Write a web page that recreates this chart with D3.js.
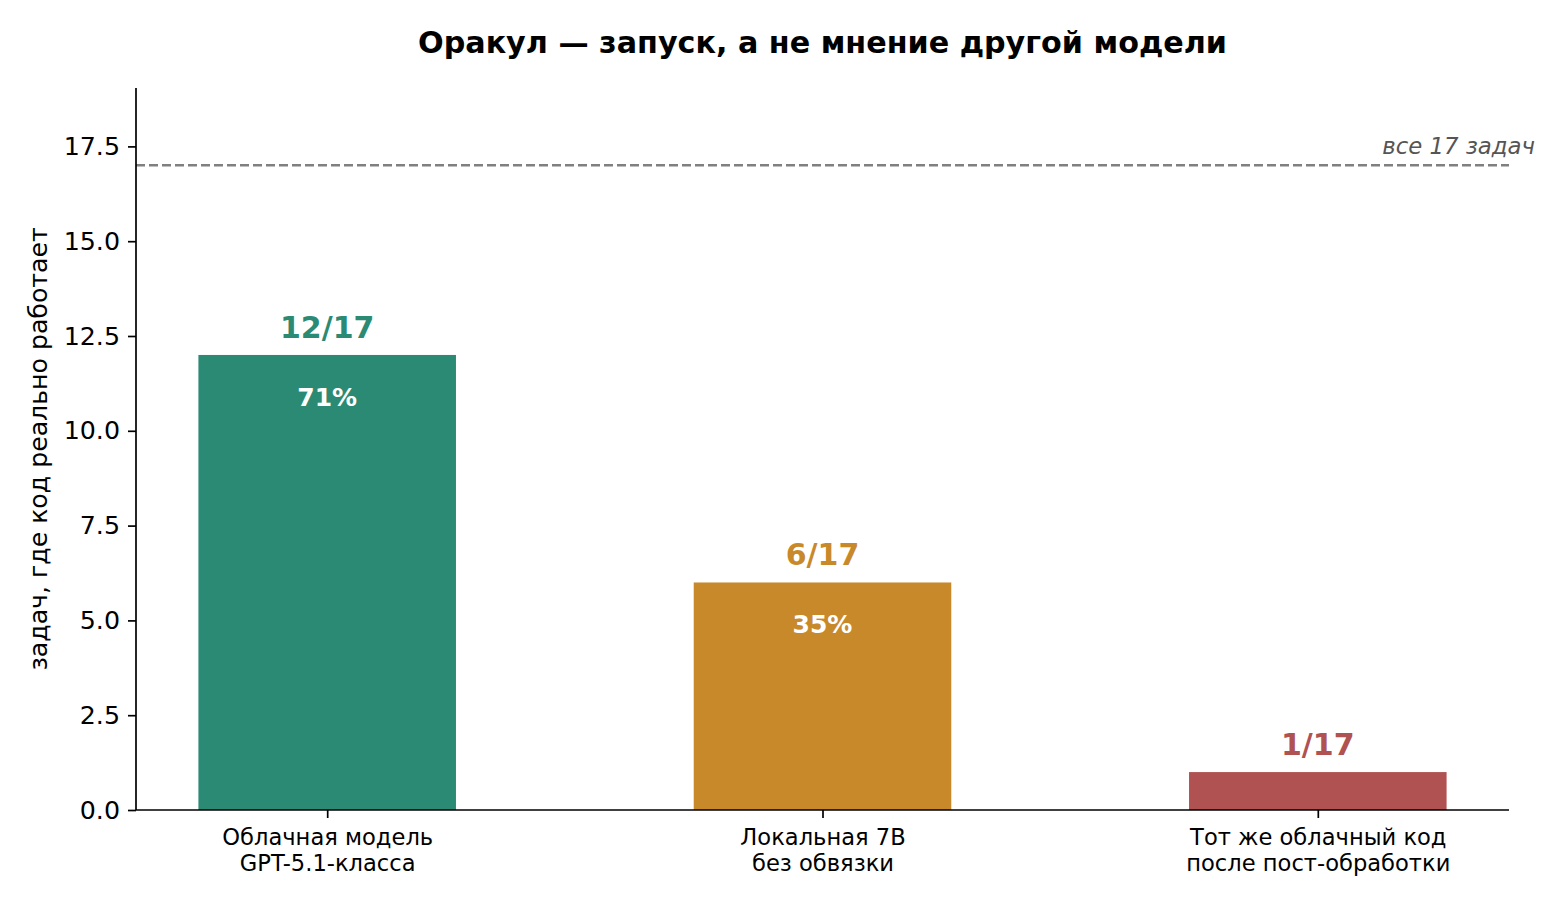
<!DOCTYPE html>
<html>
<head>
<meta charset="utf-8">
<script src="https://cdn.jsdelivr.net/npm/d3@7"></script>
<style>
  body { margin: 0; background: #fff; }
  svg { display: block; font-family: "DejaVu Sans", sans-serif; }
</style>
</head>
<body>
<svg width="1560" height="906"></svg>
<script>
// data
var categories = [["Облачная модель", "GPT-5.1-класса"], ["Локальная 7B", "без обвязки"], ["Тот же облачный код", "после пост-обработки"]];
var passed = [12, 6, 1];
var totalTasks = 17;
var barColors = ["#2b8a73", "#c8892b", "#b05252"];
var yTicks = [0, 2.5, 5, 7.5, 10, 12.5, 15, 17.5];

var width = 1560, height = 906;
var margin = { top: 88, right: 51, bottom: 96, left: 136 };
var barW = 0.52;

var svg = d3.select("svg");

var x = d3.scaleLinear()
    .domain([-barW / 2 - 0.126, passed.length - 1 + barW / 2 + 0.126])
    .range([margin.left, width - margin.right]);

var y = d3.scaleLinear()
    .domain([0, totalTasks * 1.12])
    .range([height - margin.bottom, margin.top]);

// title
svg.append("text")
    .attr("x", (margin.left + width - margin.right) / 2)
    .attr("y", 53)
    .attr("text-anchor", "middle")
    .attr("font-size", 30.2)
    .attr("font-weight", "bold")
    .text("Оракул — запуск, а не мнение другой модели");

// reference line at 17
svg.append("line")
    .attr("x1", x.range()[0]).attr("x2", x.range()[1])
    .attr("y1", y(totalTasks)).attr("y2", y(totalTasks))
    .attr("stroke", "#808080")
    .attr("stroke-width", 2.5)
    .attr("stroke-dasharray", "9,4");

svg.append("text")
    .attr("x", 1535)
    .attr("y", y(totalTasks) - 11)
    .attr("text-anchor", "end")
    .attr("font-size", 22.8)
    .attr("font-style", "italic")
    .attr("fill", "#555")
    .text("все " + totalTasks + " задач");

// bars
svg.selectAll("rect.bar")
    .data(passed)
    .enter()
    .append("rect")
    .attr("class", "bar")
    .attr("x", function(d, i) { return x(i - barW / 2); })
    .attr("width", function(d, i) { return x(i + barW / 2) - x(i - barW / 2); })
    .attr("y", function(d) { return y(d); })
    .attr("height", function(d) { return y(0) - y(d); })
    .attr("fill", function(d, i) { return barColors[i]; });

// count labels above bars
svg.selectAll("text.count")
    .data(passed)
    .enter()
    .append("text")
    .attr("class", "count")
    .attr("x", function(d, i) { return x(i); })
    .attr("y", function(d) { return y(d) - 17; })
    .attr("text-anchor", "middle")
    .attr("font-size", 30)
    .attr("font-weight", "bold")
    .attr("fill", function(d, i) { return barColors[i]; })
    .text(function(d) { return d + "/" + totalTasks; });

// percent labels inside (only where bar is tall enough)
svg.selectAll("text.pct")
    .data(passed.filter(function(d) { return d >= 3; }))
    .enter()
    .append("text")
    .attr("class", "pct")
    .attr("x", function(d) { return x(passed.indexOf(d)); })
    .attr("y", function(d) { return y(d - 1.1) + 9; })
    .attr("text-anchor", "middle")
    .attr("font-size", 25)
    .attr("font-weight", "bold")
    .attr("fill", "#fff")
    .text(function(d) { return Math.round(d / totalTasks * 100) + "%"; });

// y axis
var yAxis = d3.axisLeft(y)
    .tickValues(yTicks)
    .tickFormat(d3.format(".1f"))
    .tickSize(8)
    .tickPadding(8);

var gy = svg.append("g")
    .attr("transform", "translate(" + margin.left + ",0)")
    .call(yAxis);
gy.selectAll("text").attr("font-size", 25.3).attr("fill", "#000").attr("font-family", "DejaVu Sans");
gy.selectAll("line").attr("stroke", "#000").attr("stroke-width", 1.7);
gy.select(".domain").attr("stroke", "#000").attr("stroke-width", 1.7)
    .attr("d", "M0," + y.range()[0] + "V" + y.range()[1]);

// x axis
var xAxis = d3.axisBottom(x)
    .tickValues(d3.range(passed.length))
    .tickFormat("")
    .tickSize(8);

var gx = svg.append("g")
    .attr("transform", "translate(0," + y(0) + ")")
    .call(xAxis);
gx.selectAll("line").attr("stroke", "#000").attr("stroke-width", 1.7);
gx.select(".domain").attr("stroke", "#000").attr("stroke-width", 1.7)
    .attr("d", "M" + x.range()[0] + ",0H" + x.range()[1]);

gx.selectAll(".tick").each(function(d) {
    var t = d3.select(this).append("text")
        .attr("fill", "#000")
        .attr("font-size", 22.6)
        .attr("font-family", "DejaVu Sans")
        .attr("text-anchor", "middle");
    categories[d].forEach(function(line, k) {
        t.append("tspan").attr("x", 0).attr("y", 35 + k * 26).text(line);
    });
});

// y label
svg.append("text")
    .attr("transform", "translate(47," + (margin.top + y.range()[0]) / 2 + ") rotate(-90)")
    .attr("text-anchor", "middle")
    .attr("font-size", 25.2)
    .text("задач, где код реально работает");
</script>
</body>
</html>
